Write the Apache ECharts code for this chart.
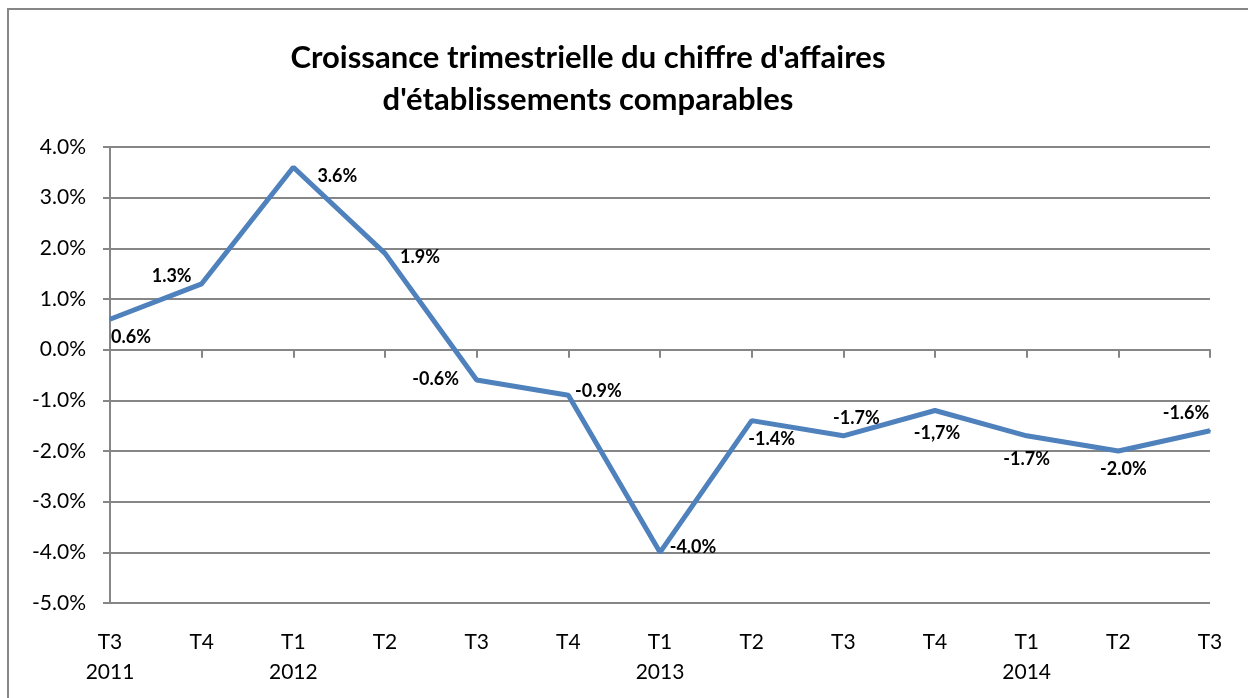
<!DOCTYPE html>
<html>
<head>
<meta charset="utf-8">
<script src="https://cdn.jsdelivr.net/npm/echarts@6/dist/echarts.min.js"></script>
<style>
  html, body { margin: 0; padding: 0; background: #fff; }
  #chart { width: 1248px; height: 698px; }
</style>
</head>
<body>
<div id="chart"></div>
<script>
// données
var quarters = ['T3', 'T4', 'T1', 'T2', 'T3', 'T4', 'T1', 'T2', 'T3', 'T4', 'T1', 'T2', 'T3']
var years = ['2011', '', '2012', '', '', '', '2013', '', '', '', '2014', '', '']
var growth = [0.6, 1.3, 3.6, 1.9, -0.6, -0.9, -4.0, -1.4, -1.7, -1.2, -1.7, -2.0, -1.6]
var pointLabels = ['0.6%', '1.3%', '3.6%', '1.9%', '-0.6%', '-0.9%', '-4.0%', '-1.4%', '-1.7%', '-1,7%', '-1.7%', '-2.0%', '-1.6%']

// décalage des étiquettes (centre du texte par rapport au point)
var labelOffsets = [[21, 18], [-30, -8], [44, 9], [35, 4], [-41, -1], [30, -4], [33, -5],
  [20, 19], [13, -18], [2, 23], [0, 23], [5, 18], [-24, -18]]

var chart = echarts.init(document.getElementById('chart'))
var axisColor = '#868686'
var font = 'Lato, "Open Sans", sans-serif'

var option = {
  animation: false,
  textStyle: { fontFamily: font },
  title: {
    text: "Croissance trimestrielle du chiffre d'affaires\nd'établissements comparables",
    left: 583,
    top: 32,
    textAlign: 'center',
    textStyle: { fontSize: 31, fontWeight: 'bold', color: '#000', lineHeight: 42, fontFamily: font }
  },
  graphic: [{
    type: 'rect',
    silent: true,
    shape: { x: 8, y: 9, width: 1400, height: 1000 },
    style: { fill: 'none', stroke: axisColor, lineWidth: 2 }
  }],
  grid: { left: 110, right: 38, top: 147, bottom: 95 },
  xAxis: [{
    type: 'category',
    data: quarters,
    boundaryGap: false,
    position: 'bottom',
    axisLine: { show: false, onZero: false },
    axisTick: { show: false },
    axisLabel: {
      interval: 0,
      margin: 24,
      color: '#000',
      fontSize: 21,
      lineHeight: 30,
      formatter: function (v, i) { return v + '\n' + (years[i] || ' ') }
    }
  }, {
    type: 'category',
    data: quarters,
    boundaryGap: false,
    position: 'bottom',
    axisLine: { show: true, onZero: true, lineStyle: { color: axisColor, width: 2 } },
    axisTick: { show: true, interval: 0, length: 8, lineStyle: { color: axisColor, width: 2 } },
    axisLabel: { show: false }
  }],
  yAxis: {
    type: 'value',
    min: -5,
    max: 4,
    interval: 1,
    axisLine: { show: true, lineStyle: { color: axisColor, width: 2 } },
    axisTick: { show: true, length: 7, lineStyle: { color: axisColor, width: 2 } },
    axisLabel: {
      margin: 24,
      color: '#000',
      fontSize: 21,
      formatter: function (v) { return v.toFixed(1) + '%' }
    },
    splitLine: { show: true, lineStyle: { color: axisColor, width: 2 } }
  },
  series: [{
    type: 'line',
    xAxisIndex: 0,
    data: growth.map(function (v, i) {
      return {
        value: v,
        label: { offset: labelOffsets[i] }
      }
    }),
    symbol: 'circle',
    symbolSize: 2,
    showSymbol: true,
    lineStyle: { color: '#4F81BD', width: 5 },
    itemStyle: { color: '#4F81BD' },
    label: {
      show: true,
      position: 'inside',
      color: '#000',
      fontSize: 18,
      fontWeight: 'bold',
      fontFamily: font,
      formatter: function (p) { return pointLabels[p.dataIndex] }
    }
  }]
}
chart.setOption(option)
</script>
</body>
</html>
